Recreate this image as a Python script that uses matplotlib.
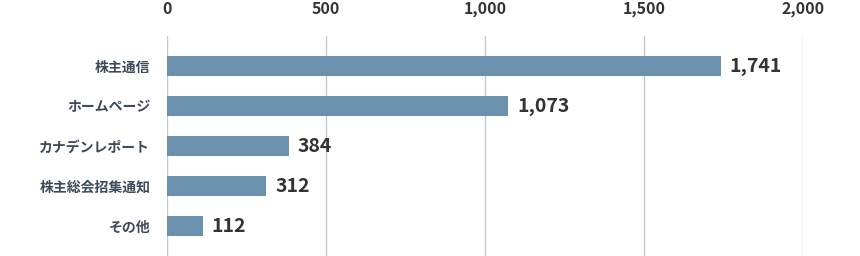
import matplotlib
matplotlib.use("Agg")
import matplotlib.pyplot as plt

plt.rcParams['font.family'] = ['Noto Sans CJK JP', 'DejaVu Sans']

categories = ["株主通信", "ホームページ", "カナデンレポート", "株主総会招集通知", "その他"]
values = [1741, 1073, 384, 312, 112]
xticks = [0, 500, 1000, 1500, 2000]
xtick_labels = ["0", "500", "1,000", "1,500", "2,000"]

fig = plt.figure(figsize=(8.6, 2.56), dpi=100)
ax = fig.add_axes([167/860, 0, (803-167)/860, (256-36)/256])

y = list(range(len(categories)))
ax.barh(y, values, height=0.5, color="#6a91ae", zorder=2)
ax.set_ylim(4.75, -0.75)
ax.set_xlim(0, 2000)

ax.set_xticks(xticks)
ax.set_xticklabels(xtick_labels)
ax.xaxis.tick_top()
ax.tick_params(axis='x', length=0, pad=14, labelsize=11.5, labelcolor="#333333")
for lab in ax.get_xticklabels():
    lab.set_fontweight('bold')

ax.set_yticks(y)
ax.set_yticklabels(categories)
ax.tick_params(axis='y', length=0, pad=12, labelsize=10, labelcolor="#3c4a5a")
for lab in ax.get_yticklabels():
    lab.set_fontweight('bold')

ax.grid(axis='x', color="#c8c8c8", linewidth=1, zorder=0)
ax.grid(axis='y', visible=False)
for s in ax.spines.values():
    s.set_visible(False)

for yi, v in zip(y, values):
    ax.text(v + 28, yi, f"{v:,}", va='center', ha='left', fontsize=14,
            fontweight='bold', color="#333333")

fig.savefig("out.png", dpi=100)
